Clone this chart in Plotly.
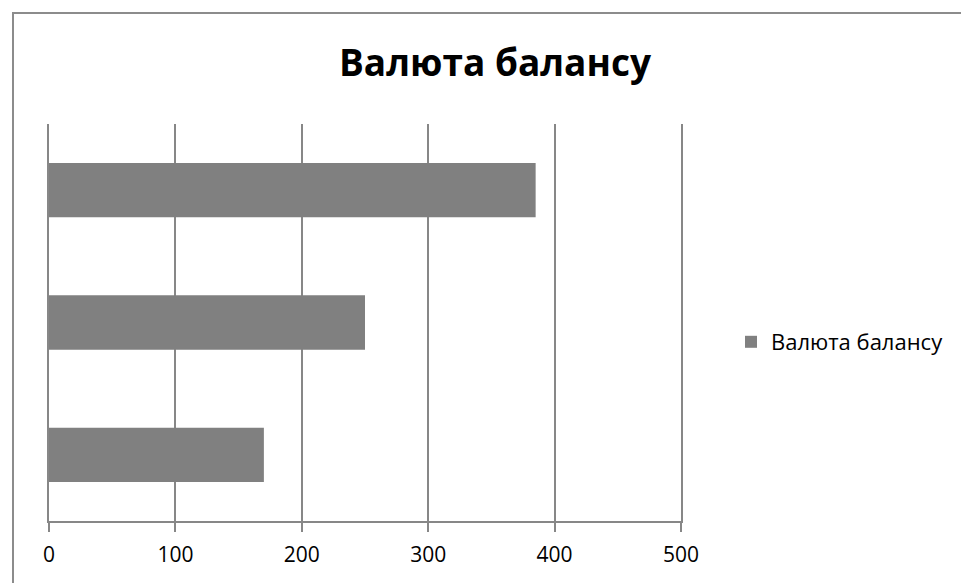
import plotly.graph_objects as go

categories = ["1", "2", "3"]
values = [170, 250, 385]
series_name = "Валюта балансу"
title_text = "Валюта балансу"
x_ticks = [0, 100, 200, 300, 400, 500]

# page offset of the figure (default body margin)
OFF = 8
W, H = 969, 583
# target plot area in page pixels: x 49..681, y 124..521
L = 49 - OFF
T = 124 - OFF
R = W - (681 - OFF)
B = H - (521 - OFF)
pw = W - L - R
ph = H - T - B

def px_x(p):
    return (p - OFF - L) / pw

def px_y(p):
    return (H - B - (p - OFF)) / ph

GRID = "#878787"
FONT = "Open Sans"

fig = go.Figure()
fig.add_trace(go.Bar(
    y=categories, x=values, orientation="h",
    name=series_name,
    marker=dict(color="#808080", line=dict(width=0)),
    width=0.41,
    showlegend=True,
))

fig.update_layout(
    width=W, height=H,
    margin=dict(l=L, r=R, t=T, b=B),
    paper_bgcolor="white", plot_bgcolor="white",
    title=dict(text=title_text, x=px_x(495), xref="paper", xanchor="center",
               y=1 - (63 - OFF) / H, yanchor="middle",
               font=dict(family=FONT, size=37, color="black", weight="bold")),
    xaxis=dict(range=[0, 500], tickvals=x_ticks, ticktext=[str(v) for v in x_ticks],
               showgrid=True, gridcolor=GRID, gridwidth=2,
               showline=True, linecolor=GRID, linewidth=2,
               ticks="outside", ticklen=9, tickwidth=2, tickcolor=GRID,
               ticklabelstandoff=5,
               tickfont=dict(family=FONT, size=21, color="black"),
               zeroline=False, fixedrange=True),
    yaxis=dict(range=[-0.5, 2.5], showticklabels=False, showgrid=False,
               showline=True, linecolor=GRID, linewidth=2, mirror=True,
               ticks="", zeroline=False, fixedrange=True),
    legend=dict(x=px_x(731), xanchor="left", y=px_y(342), yanchor="middle",
                font=dict(family=FONT, size=22, color="black"),
                bgcolor="rgba(0,0,0,0)", itemwidth=30),
    showlegend=True,
    shapes=[dict(type="rect", xref="paper", yref="paper",
                 x0=px_x(13), x1=px_x(1000), y0=px_y(640), y1=px_y(13),
                 line=dict(color="#8c8c8c", width=2), fillcolor="rgba(0,0,0,0)",
                 layer="below")],
)

fig.write_html("out.html")
